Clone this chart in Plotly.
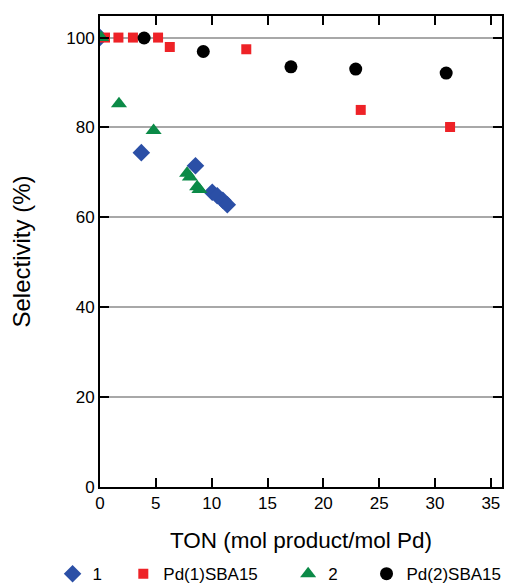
import plotly.graph_objects as go

# Selectivity vs. turnover number for the homogeneous complexes and the SBA-15 supported catalysts
ton_1 = [0.0, 3.7, 8.55, 10.05, 10.5, 11.0, 11.4]
sel_1 = [100.0, 74.4, 71.5, 65.6, 64.8, 63.8, 62.8]

ton_pd1 = [0.45, 1.65, 2.95, 5.2, 6.25, 13.1, 23.35, 31.35]
sel_pd1 = [100.0, 100.0, 100.0, 100.0, 97.9, 97.4, 83.9, 80.1]

ton_2 = [0.1, 1.7, 4.8, 7.8, 8.05, 8.7, 8.9]
sel_2 = [100.0, 85.3, 79.3, 69.8, 69.0, 66.8, 66.2]

ton_pd2 = [3.95, 9.25, 17.1, 22.9, 31.0]
sel_pd2 = [99.9, 96.9, 93.5, 93.0, 92.1]

series = [
    ("1", ton_1, sel_1, "diamond", "#2b4fa6", 13.5, "legend"),
    ("Pd(1)SBA15", ton_pd1, sel_pd1, "square", "#ee2227", 10, "legend2"),
    ("2", ton_2, sel_2, "triangle-up", "#0b8a47", 14, "legend3"),
    ("Pd(2)SBA15", ton_pd2, sel_pd2, "circle", "#000000", 13, "legend4"),
]

fig = go.Figure()
for name, x, y, sym, col, size, leg in series:
    fig.add_trace(go.Scatter(
        x=x, y=y, mode="markers", name=name, legend=leg, showlegend=True,
        marker=dict(symbol=sym, color=col, size=size, line=dict(width=0)),
    ))

font_family = "Liberation Sans, Arial, sans-serif"
axis_common = dict(
    showline=True, linecolor="black", linewidth=2, mirror="ticks",
    ticks="inside", ticklen=9, tickwidth=2, tickcolor="black",
    zeroline=False,
    tickfont=dict(family=font_family, size=17, color="black"),
)

legend_common = dict(
    orientation="h", yanchor="middle", y=-0.185, xanchor="left",
    font=dict(family=font_family, size=17, color="black"),
    bgcolor="rgba(0,0,0,0)", itemclick=False,
)

fig.update_layout(
    width=508, height=584,
    margin=dict(l=100, r=6, t=16, b=97, autoexpand=False),
    showlegend=True,
    paper_bgcolor="white", plot_bgcolor="white",
    xaxis=dict(range=[0, 36], tickvals=[0, 5, 10, 15, 20, 25, 30, 35],
               showgrid=False,
               title=dict(text="TON (mol product/mol Pd)", standoff=20,
                          font=dict(family=font_family, size=22.5, color="black")),
               **axis_common),
    yaxis=dict(range=[0, 104.8], tickvals=[0, 20, 40, 60, 80, 100],
               showgrid=True, gridcolor="#a8a8a8", gridwidth=1.5,
               title=dict(text="Selectivity (%)", standoff=29,
                          font=dict(family=font_family, size=24, color="black")),
               **axis_common),
    legend=dict(x=-0.118, **legend_common),
    legend2=dict(x=0.058, **legend_common),
    legend3=dict(x=0.468, **legend_common),
    legend4=dict(x=0.663, **legend_common),
)

fig.write_html("out.html")
